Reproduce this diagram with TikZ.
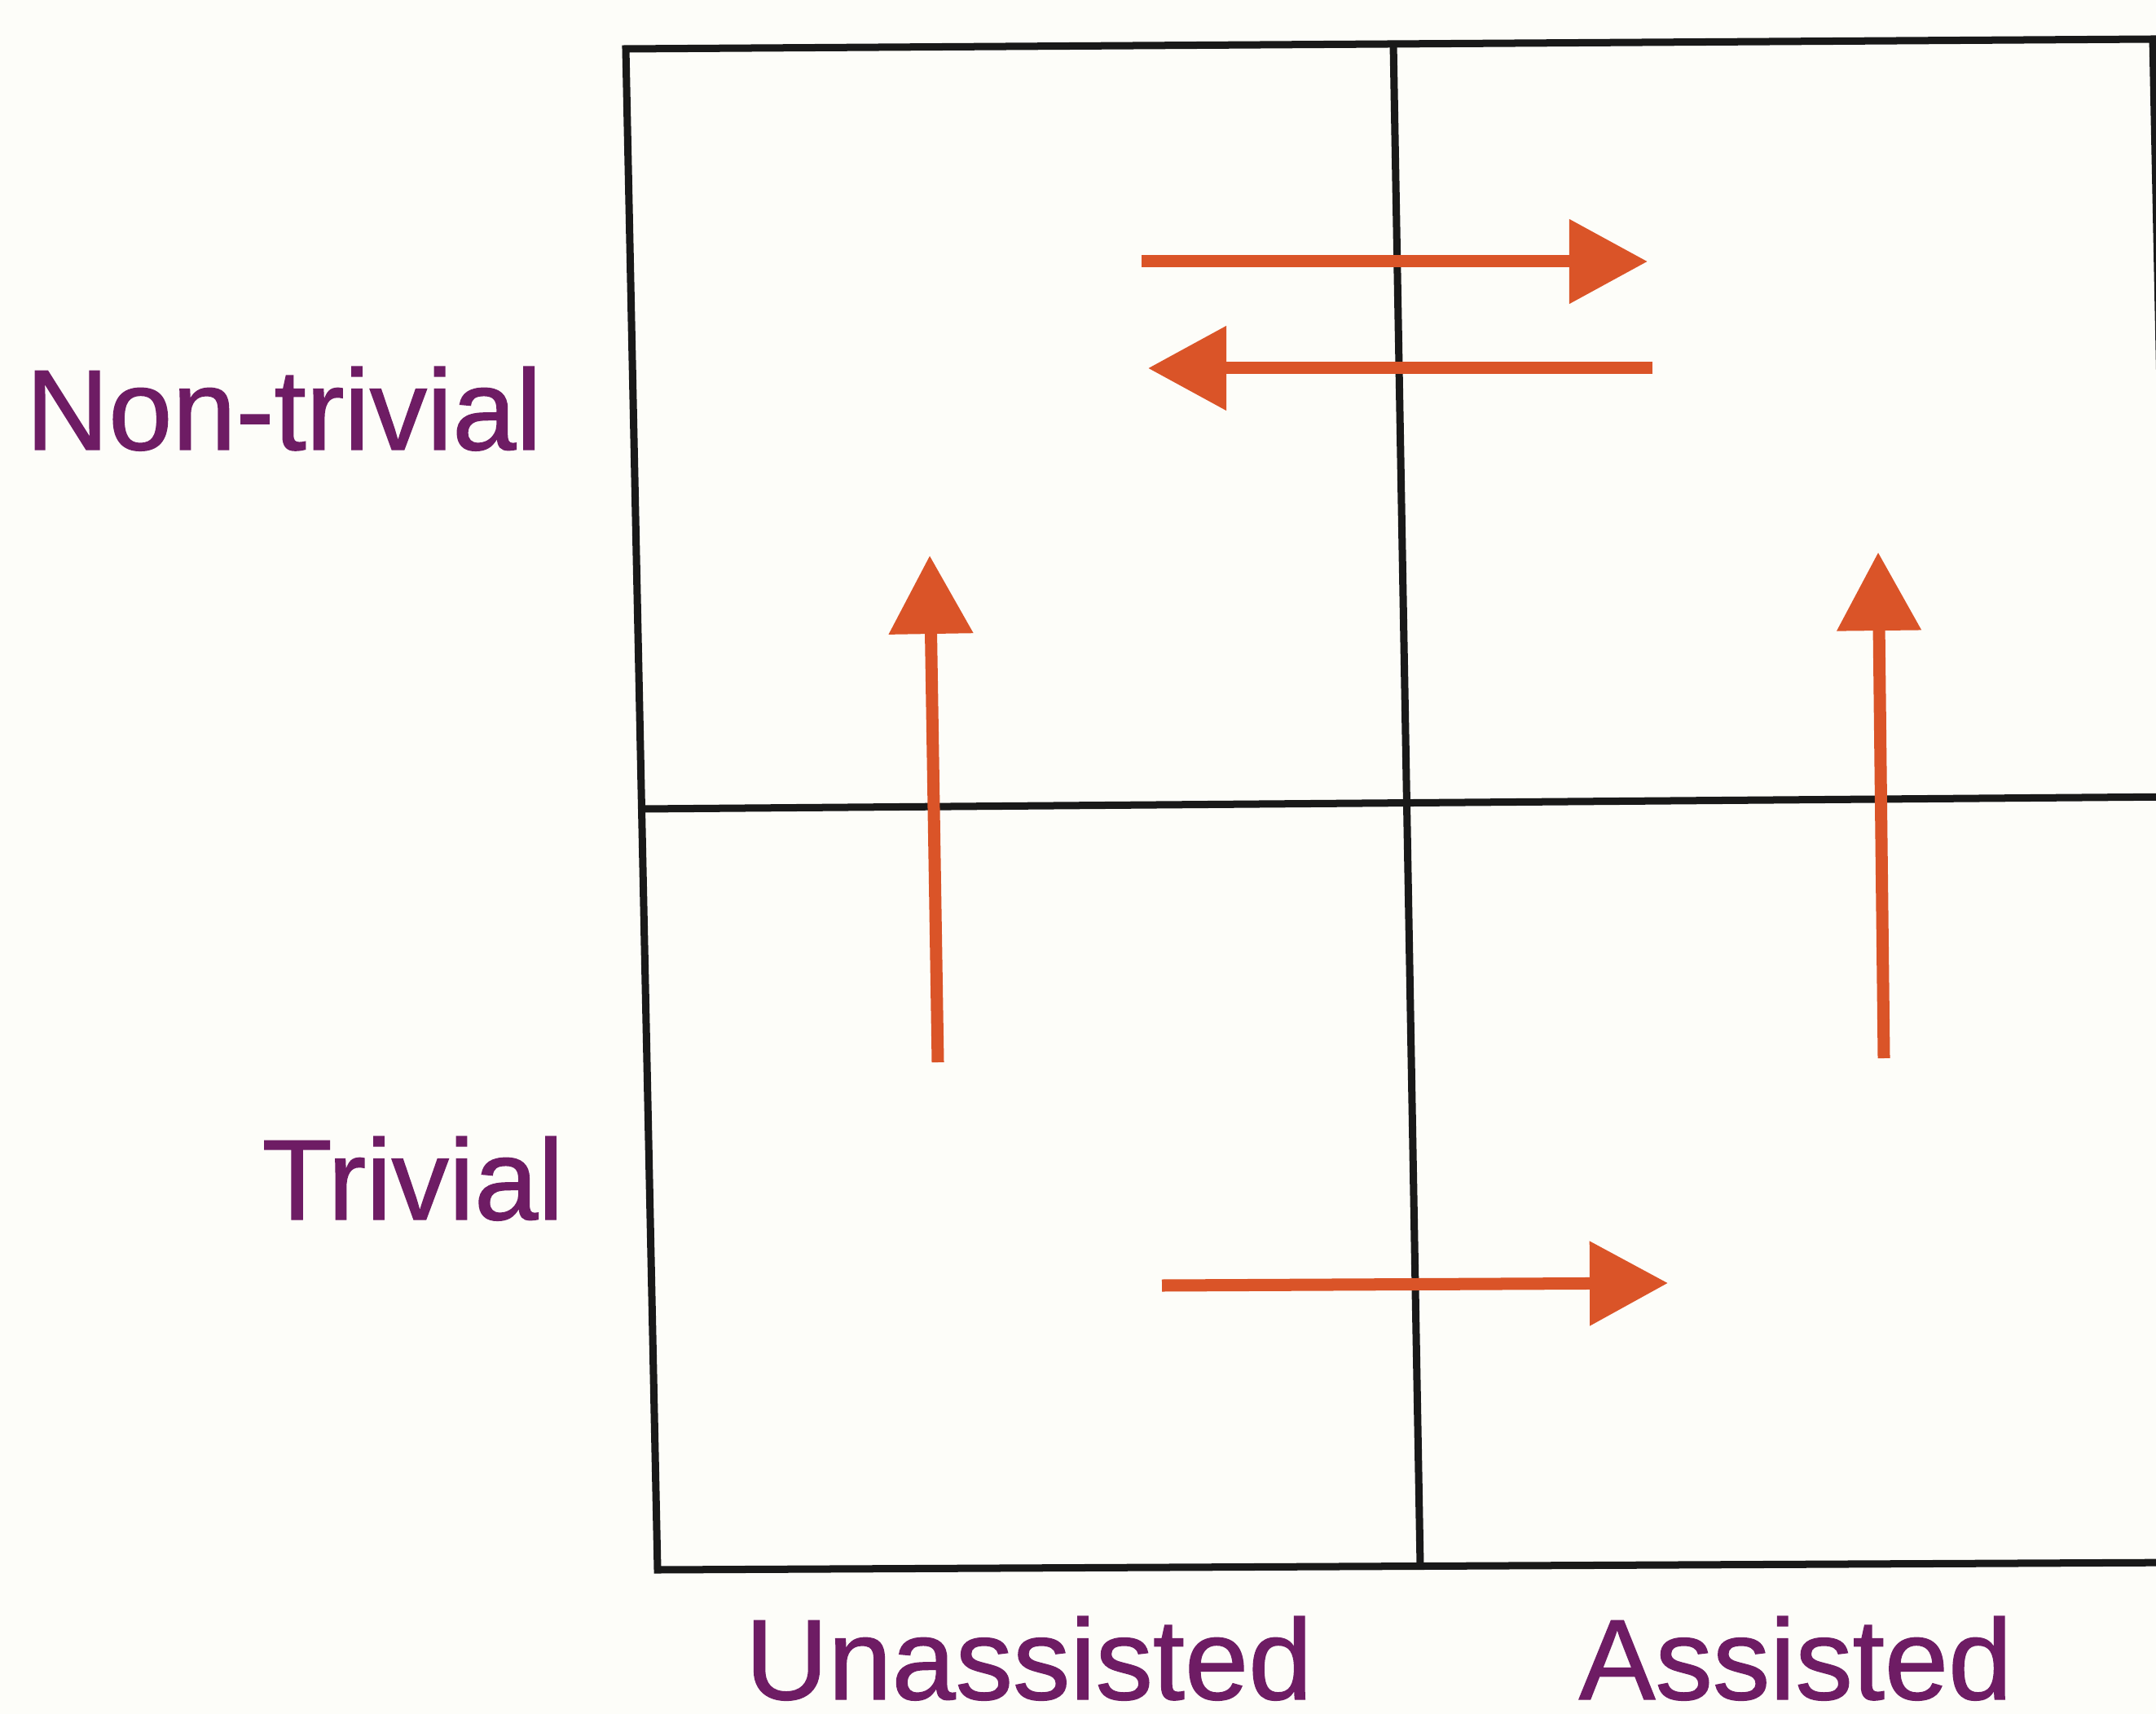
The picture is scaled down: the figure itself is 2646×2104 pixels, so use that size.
\documentclass[tikz,border=0pt]{standalone}
\usepackage{fontspec}
\setmainfont{Liberation Sans}
\newfontfamily\lblfont[FakeBold=1]{Liberation Sans}
\usetikzlibrary{arrows.meta}
\definecolor{arr}{RGB}{218,84,40}
\definecolor{lab}{RGB}{110,28,100}
\definecolor{paper}{RGB}{253,253,249}
\definecolor{ink}{RGB}{25,25,25}
\begin{document}
\begin{tikzpicture}[x=0.01cm,y=-0.01cm,
  gridline/.style={draw=ink,line width=0.09cm,line join=miter},
  flow/.style={draw=arr,line width=0.15cm,-{Triangle[length=0.96cm,width=1.0cm]}},
  lbl/.style={text=lab,font=\lblfont\fontsize{40}{48}\selectfont,inner sep=0pt}]
\fill[paper] (0,0) rectangle (2646,2104);
\useasboundingbox (0,0) rectangle (2646,2104);
% grid
\coordinate (tl) at (768,60);
\coordinate (tr) at (2642,48);
\coordinate (br) at (2681,1918);
\coordinate (bl) at (807,1927);
\coordinate (tm) at (1710,54);
\coordinate (bm) at (1743,1922);
\coordinate (ml) at (788,993);
\coordinate (mr) at (2681,978);
\draw[gridline] (tl) -- (tr) -- (br) -- (bl) -- cycle;
\draw[gridline] (tm) -- (bm);
\draw[gridline] (ml) -- (mr);
% arrows
\coordinate (a1s) at (1401,321);
\coordinate (a1e) at (2022,321);
\coordinate (a2s) at (2028,452);
\coordinate (a2e) at (1409,452);
\coordinate (a3s) at (1151,1304);
\coordinate (a3e) at (1141,682);
\coordinate (a4s) at (2312,1299);
\coordinate (a4e) at (2305,678);
\coordinate (a5s) at (1426,1578);
\coordinate (a5e) at (2047,1575);
\draw[flow] (a1s) -- (a1e);
\draw[flow] (a2s) -- (a2e);
\draw[flow] (a3s) -- (a3e);
\draw[flow] (a4s) -- (a4e);
\draw[flow] (a5s) -- (a5e);
% labels
\node[lbl,anchor=base west] (nontriv) at (31,552) {Non-trivial};
\node[lbl,anchor=base west] (triv) at (321,1497) {Trivial};
\node[lbl,anchor=base west] (unass) at (914,2086) {Unassisted};
\node[lbl,anchor=base west] (ass) at (1937,2086) {Assisted};
\end{tikzpicture}
\end{document}
